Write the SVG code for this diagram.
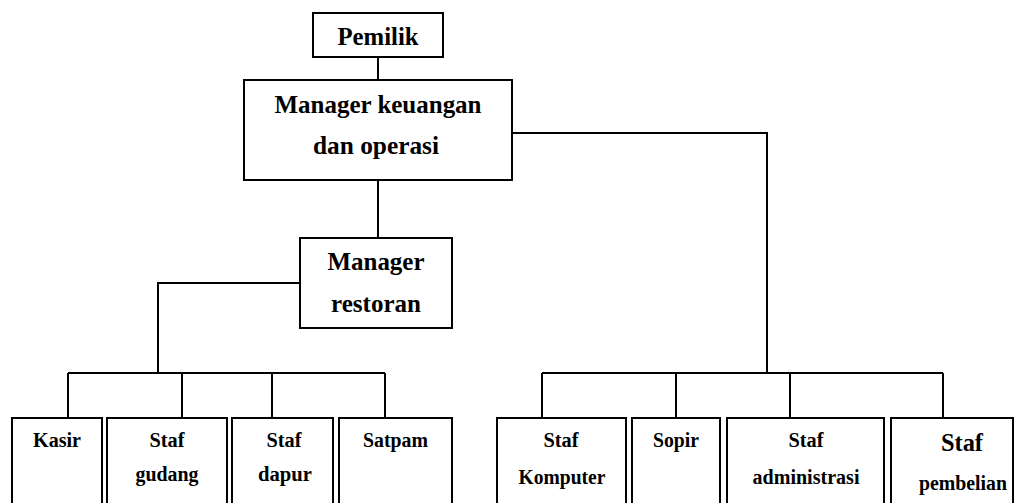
<svg xmlns="http://www.w3.org/2000/svg" width="1018" height="503" viewBox="0 0 1018 503">
<style>
  .box { fill: #ffffff; stroke: #000000; stroke-width: 2; }
  .line { fill: none; stroke: #000000; stroke-width: 2; }
  .t { font-family: "Liberation Serif", "Times New Roman", serif; font-weight: bold; fill: #000000; text-anchor: middle; }
  .big { font-size: 25px; }
  .small { font-size: 20px; }
</style>
<rect width="1018" height="503" fill="#ffffff"/>
<g id="connectors">
  <path class="line" d="M378 57 V80"/>
  <path class="line" d="M378 180 V238"/>
  <path class="line" d="M300 283 H158 V373"/>
  <path class="line" d="M68 373 H385"/>
  <path class="line" d="M68 373 V418 M182 373 V418 M272 373 V418 M385 373 V418"/>
  <path class="line" d="M512 133 H767 V373"/>
  <path class="line" d="M542 373 H943"/>
  <path class="line" d="M542 373 V418 M676 373 V418 M790 373 V418 M943 373 V418"/>
</g>
<g id="pemilik">
  <rect class="box" x="313" y="13" width="130" height="44"/>
  <text class="t big" x="378" y="45" textLength="81" lengthAdjust="spacingAndGlyphs">Pemilik</text>
</g>
<g id="manager-keuangan">
  <rect class="box" x="244" y="80" width="268" height="100"/>
  <text class="t big" x="378" y="113" textLength="207" lengthAdjust="spacingAndGlyphs">Manager keuangan</text>
  <text class="t big" x="376" y="154" textLength="126" lengthAdjust="spacingAndGlyphs">dan operasi</text>
</g>
<g id="manager-restoran">
  <rect class="box" x="300" y="238" width="152" height="90"/>
  <text class="t big" x="376" y="270" textLength="97" lengthAdjust="spacingAndGlyphs">Manager</text>
  <text class="t big" x="376" y="312" textLength="90" lengthAdjust="spacingAndGlyphs">restoran</text>
</g>
<g id="kasir">
  <rect class="box" x="12" y="418" width="90" height="100"/>
  <text class="t small" x="57" y="447" textLength="48" lengthAdjust="spacingAndGlyphs">Kasir</text>
</g>
<g id="staf-gudang">
  <rect class="box" x="107" y="418" width="120" height="100"/>
  <text class="t small" x="167" y="447" textLength="35" lengthAdjust="spacingAndGlyphs">Staf</text>
  <text class="t small" x="167" y="481" textLength="63" lengthAdjust="spacingAndGlyphs">gudang</text>
</g>
<g id="staf-dapur">
  <rect class="box" x="232" y="418" width="101" height="100"/>
  <text class="t small" x="284" y="447" textLength="35" lengthAdjust="spacingAndGlyphs">Staf</text>
  <text class="t small" x="285" y="481" textLength="54" lengthAdjust="spacingAndGlyphs">dapur</text>
</g>
<g id="satpam">
  <rect class="box" x="339" y="418" width="113" height="100"/>
  <text class="t small" x="395.5" y="447" textLength="65" lengthAdjust="spacingAndGlyphs">Satpam</text>
</g>
<g id="staf-komputer">
  <rect class="box" x="497" y="418" width="129" height="100"/>
  <text class="t small" x="561" y="447" textLength="35" lengthAdjust="spacingAndGlyphs">Staf</text>
  <text class="t small" x="562" y="484" textLength="87" lengthAdjust="spacingAndGlyphs">Komputer</text>
</g>
<g id="sopir">
  <rect class="box" x="632" y="418" width="88" height="100"/>
  <text class="t small" x="676" y="447" textLength="46" lengthAdjust="spacingAndGlyphs">Sopir</text>
</g>
<g id="staf-administrasi">
  <rect class="box" x="727" y="418" width="157" height="100"/>
  <text class="t small" x="806" y="447" textLength="35" lengthAdjust="spacingAndGlyphs">Staf</text>
  <text class="t small" x="806" y="484" textLength="107" lengthAdjust="spacingAndGlyphs">administrasi</text>
</g>
<g id="staf-pembelian">
  <rect class="box" x="891" y="418" width="122" height="100"/>
  <text class="t big" x="962" y="451" textLength="42" lengthAdjust="spacingAndGlyphs">Staf</text>
  <text class="t small" x="963" y="490" textLength="88" lengthAdjust="spacingAndGlyphs">pembelian</text>
</g>
</svg>
